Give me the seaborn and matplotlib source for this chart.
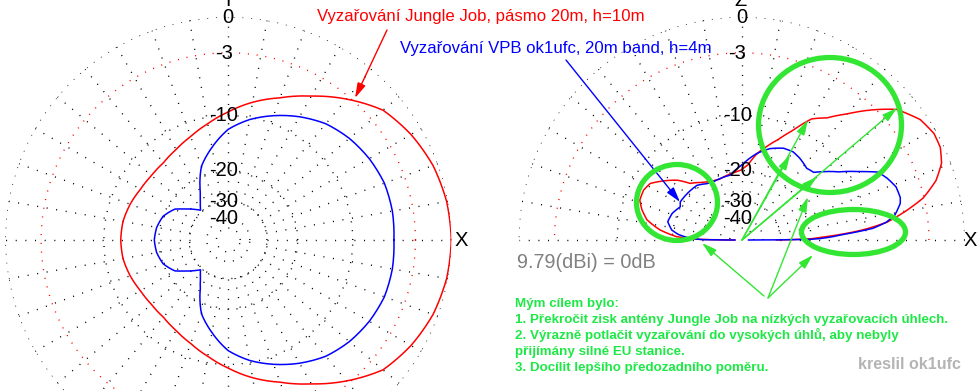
import numpy as np
import matplotlib
matplotlib.use("Agg")
import matplotlib.pyplot as plt
import seaborn as sns
from matplotlib.patches import Ellipse

# ---------------- data (dB relative to 9.79 dBi) ----------------
# Azimuth pattern (left plot), angles in degrees 0..180 (pattern symmetric about X axis)
az_jj_angles = [0, 10, 20, 30, 40, 50, 60, 70, 80, 90, 100, 110, 120, 130, 140, 150, 160, 170, 180]
az_jj_db = [0.0, -0.1, -0.4, -0.95, -1.7, -3.3, -5.05, -6.65, -8.0, -9.5, -10.9, -12.1, -13.0,
            -13.6, -13.7, -13.5, -13.0, -12.6, -12.5]
az_vpb_angles = [0, 10, 20, 30, 40, 50, 60, 70, 80, 90, 100, 105, 110, 115, 120, 125, 130, 133,
                 137, 140, 145, 150, 160, 170, 180]
az_vpb_db = [-5.1, -5.0, -5.05, -5.4, -5.9, -6.6, -7.7, -8.95, -10.3, -12.0, -14.8, -16.3,
             -17.9, -20.6, -23.7, -26.1, -28.0, -29.1, -27.5, -26.3, -24.3, -22.0, -20.0, -19.2,
             -18.9]

# Elevation pattern (right plot), angles in degrees 0..180
el_jj_angles = [0, 1, 2, 3, 4, 5, 7, 10, 13, 17, 21, 25, 29, 34, 37.5, 40, 45, 50, 55, 60, 65, 70,
                75, 80, 85, 90, 95, 100, 110, 118.5, 125, 132.4, 137, 142.9, 148.3, 153, 158.6,
                163, 168, 173, 177, 179, 180]
el_jj_db = [-32, -20, -17.5, -14.5, -12, -10, -7.2, -5.0, -3.1, -1.6, -0.7, -0.3, -0.25, -0.6,
            -1.2, -1.6, -3.3, -5.2, -6.9, -8.0, -10.5, -12.6, -14.3, -16.0, -18.5, -19.8, -20.3,
            -20.6, -21.2, -20.8, -19.8, -18.3, -16.0, -14.1, -12.5, -12.1, -12.2, -13.0, -14.3,
            -17.1, -21, -27, -60]
el_vpb_angles = [0, 0.5, 1, 2, 2.9, 5.1, 7, 9.3, 13, 15, 19, 23, 26.5, 30, 35, 40, 43.2, 47.8,
                 54.5, 59.7, 65.5, 72.8, 80.2, 90, 100.2, 115.9, 121.7, 129.3, 137.8, 148.2,
                 151.6, 159.1, 166.1, 171.9, 175, 178.1, 179.5, 180]
el_vpb_db = [-60, -20.5, -18, -15.5, -14, -9.0, -7.3, -6.2, -5.4, -5.25, -5.35, -5.9, -6.55,
             -8.4, -10.8, -12.7, -13.95, -14.3, -13.7, -13.4, -13.6, -14.5, -16.0, -18.7, -20.9,
             -21.2, -20.8, -19.7, -19.5, -19.3, -19.9, -18.8, -18.4, -19.7, -21.5, -25, -30, -60]

ring_levels = [0, -3, -10, -20, -30, -40, -50]
ring_labels = ["0", "-3", "-10", "-20", "-30", "-40"]

# ---------------- style ----------------
sns.set_theme(style="white")
plt.rcParams["font.family"] = ["Liberation Sans", "DejaVu Sans"]

W, H = 979, 391
fig = plt.figure(figsize=(W / 100, H / 100), dpi=100)
fig.patch.set_facecolor("white")

R = 223.0


def fwd(x):
    return np.power(0.89, -np.asarray(x, dtype=float) / 2.0)


def inv(r):
    r = np.clip(np.asarray(r, dtype=float), 1e-300, None)
    return -2.0 * np.log(r) / np.log(0.89)


def polar_at(cx, cy):
    ax = fig.add_axes([(cx - R) / W, (H - cy - R) / H, 2 * R / W, 2 * R / H],
                      projection="polar")
    ax.set_rscale("function", functions=(fwd, inv))
    ax.set_ylim(-120, 0)
    ax.grid(False)
    ax.set_xticks([])
    ax.set_yticks([])
    ax.spines["polar"].set_visible(False)
    ax.patch.set_visible(False)
    return ax


dot = (0, (0.75, 5.6))


def grid(ax, half):
    t = np.linspace(0, np.pi if half else 2 * np.pi, 721)
    for lv in ring_levels:
        ax.plot(t, np.full_like(t, lv), color="red" if lv == -3 else "black",
                lw=1.0, linestyle=dot, zorder=1)
    angs = range(0, 181 if half else 360, 10)
    for a in angs:
        th = np.deg2rad(a)
        ax.plot([th, th], [-30, 0], color="black", lw=1.0, linestyle=(0, (0.75, 6.2)), zorder=1)


def curve(ax, ang, db, color):
    n0 = len(ax.lines)
    sns.lineplot(x=np.deg2rad(ang), y=db, ax=ax, color=color, lw=1.1, sort=False,
                 estimator=None, zorder=3)
    for ln in ax.lines[n0:]:
        ln.get_path()._interpolation_steps = 12
    ax.set_xlabel("")
    ax.set_ylabel("")


# ---------------- left: azimuth ----------------
cxL, cyL = 228.3, 240.0
axL = polar_at(cxL, cyL)
grid(axL, False)
a1 = np.array(az_jj_angles, float)
d1 = np.array(az_jj_db, float)
curve(axL, np.concatenate([a1, 360 - a1[::-1]]), np.concatenate([d1, d1[::-1]]), "red")
a2 = np.array(az_vpb_angles, float)
d2 = np.array(az_vpb_db, float)
curve(axL, np.concatenate([a2, 360 - a2[::-1]]), np.concatenate([d2, d2[::-1]]), "blue")

# ---------------- right: elevation ----------------
cxR, cyR = 741.7, 240.0
axR = polar_at(cxR, cyR)
grid(axR, True)
curve(axR, el_jj_angles, el_jj_db, "red")
curve(axR, el_vpb_angles, el_vpb_db, "blue")

# ---------------- overlay for annotations ----------------
ov = fig.add_axes([0, 0, 1, 1], zorder=5)
ov.set_xlim(0, W)
ov.set_ylim(H, 0)
ov.axis("off")
ov.patch.set_visible(False)

lab_kw = dict(fontsize=14.5, color="black", va="center", ha="center")
for cx in (cxL, cxR):
    for lv, txt in zip(ring_levels, ring_labels):
        y = cyL - R * fwd(lv)
        x = cx if txt == "0" else cx - 4.5
        ov.text(x, y + 0.5, txt, **lab_kw)
ov.text(cxL, 0.0, "Y", **lab_kw)
ov.text(cxR - 1, 0.5, "Z", **lab_kw)
ov.text(461, 240.5, "X", **lab_kw)
ov.text(970.5, 240, "X", **lab_kw)

ov.text(317, 21, "Vyzařování Jungle Job, pásmo 20m, h=10m", color="red", fontsize=12.1,
        ha="left", va="baseline")
ov.text(400, 53, "Vyzařování VPB ok1ufc, 20m band, h=4m", color="blue", fontsize=12.1,
        ha="left", va="baseline")
ov.text(517, 262, "9.79(dBi) = 0dB", color="#808080", fontsize=14.3, ha="left", va="center")

green_txt = "#1ee846"
lines = ["Mým cílem bylo:",
         "1. Překročit zisk antény Jungle Job na nízkých vyzařovacích úhlech.",
         "2. Výrazně potlačit vyzařování do vysokých úhlů, aby nebyly",
         "přijímány silné EU stanice.",
         "3. Docílit lepšího předozadního poměru."]
for i, ln in enumerate(lines):
    ov.text(515, 306.7 + 16.1 * i, ln, color=green_txt, fontsize=9.6, fontweight="bold",
            ha="left", va="baseline")
ov.text(858, 369, "kreslil ok1ufc", color="#b4b4b4", fontsize=11.5, fontweight="bold",
        ha="left", va="baseline")


def arrow(tail, tip, color):
    ov.annotate("", xy=tip, xytext=tail, xycoords="data", textcoords="data",
                arrowprops=dict(arrowstyle="-|>,head_length=0.6,head_width=0.17",
                                color=color, lw=1.0, shrinkA=0, shrinkB=0,
                                mutation_scale=15))


arrow((387, 30), (355, 98), "red")
arrow((566, 60), (680, 202), "blue")

green = "#33e633"
for tip in [(790, 155), (808, 120), (817, 177), (897, 108)]:
    arrow((742, 240), tip, green)
arrow((764, 296), (702, 243), green)
arrow((768, 298), (808, 197), green)
arrow((768, 298), (813, 255), green)

for (cx, cy, w, h) in [(677, 202.5, 81, 76), (830, 125, 143, 135), (853.5, 232, 104, 45)]:
    ov.add_patch(Ellipse((cx, cy), w, h, fill=False, edgecolor=green, lw=3.8, zorder=6))

fig.savefig("out.png", dpi=100, facecolor="white")
